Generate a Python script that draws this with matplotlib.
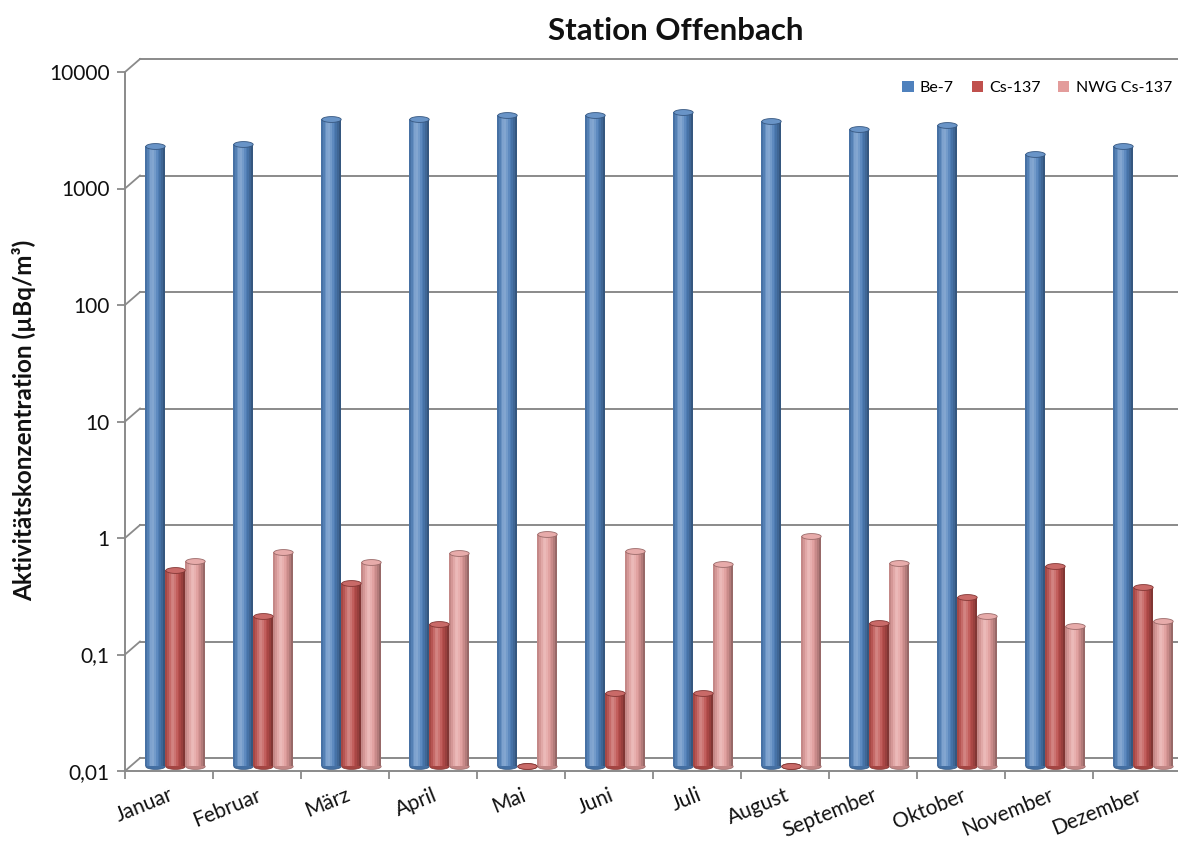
import numpy as np
import matplotlib
matplotlib.use("Agg")
import matplotlib.pyplot as plt
from matplotlib.path import Path
from matplotlib.patches import Patch
from matplotlib.lines import Line2D
from matplotlib import transforms as mtrans
from matplotlib.colors import to_rgb

# ---------------- data ----------------
months = ["Januar", "Februar", "März", "April", "Mai", "Juni", "Juli",
          "August", "September", "Oktober", "November", "Dezember"]
be7 = [2100, 2200, 3600, 3600, 3900, 3850, 4100, 3450, 2950, 3200, 1800, 2100]
cs137 = [0.48, 0.195, 0.37, 0.167, 0.01, 0.042, 0.042, 0.01, 0.17, 0.28, 0.52, 0.345]
nwg_cs137 = [0.58, 0.69, 0.565, 0.67, 0.98, 0.70, 0.54, 0.94, 0.55, 0.195, 0.16, 0.177]
series_names = ["Be-7", "Cs-137", "NWG Cs-137"]
series_colors = ["#4F81BD", "#C0504D", "#E39C9B"]
y_ticks = [0.01, 0.1, 1, 10, 100, 1000, 10000]
y_tick_labels = ["0,01", "0,1", "1", "10", "100", "1000", "10000"]
title = "Station Offenbach"
y_label = "Aktivitätskonzentration (µBq/m³)"

plt.rcParams['font.family'] = ['Lato', 'DejaVu Sans']

W, H = 1178, 843
fig = plt.figure(figsize=(W / 100, H / 100), dpi=100)
left_px, right_px, bottom_px, top_px = 125, 1181, 771, 72
ax = fig.add_axes([left_px / W, 1 - bottom_px / H,
                   (right_px - left_px) / W, (bottom_px - top_px) / H])
ax.set_yscale('log')
ax.set_xlim(-0.5, 11.5)
ax.set_ylim(y_ticks[0], y_ticks[-1])
ax.patch.set_alpha(0)

grey = "#8A8A8A"
ymin = y_ticks[0]

# back wall gridlines (depth offset)
T_back = mtrans.offset_copy(ax.transData, fig=fig, x=15, y=13, units='dots')
for yv in y_ticks:
    ax.plot([-0.5, 11.6], [yv, yv], color=grey, lw=1.4, transform=T_back,
            clip_on=False, zorder=0.5)
    # diagonal connectors from front axis to back wall
    x0, y0 = ax.transData.transform((-0.5, yv))
    fig.add_artist(Line2D([x0, x0 + 15], [y0, y0 + 13], color=grey, lw=1.3,
                          transform=mtrans.IdentityTransform(), zorder=0.5))

# bars as shaded cylinders
T_bar = mtrans.offset_copy(ax.transData, fig=fig, x=6, y=5, units='dots')
bar_w = 0.22
offsets = [-0.228, 0.0, 0.228]
n_strips = 11
px_per_cat = (right_px - left_px) / 12.0
ms = bar_w * px_per_cat * 72 / 100.0

theta = np.linspace(0, 2 * np.pi, 60)
ell_path = Path(np.column_stack([np.cos(theta), 0.3 * np.sin(theta)]), closed=True)


def shade(base, t):
    c = np.array(to_rgb(base))
    hl = 0.30 * np.exp(-((t - 0.38) / 0.2) ** 2)
    dk = 0.40 * (abs(t - 0.42) / 0.58) ** 2.4
    c = c + (1 - c) * hl
    c = c * (1 - dk)
    return np.clip(c, 0, 1)


x = np.arange(len(months))
for vals, off, col in zip([be7, cs137, nwg_cs137], offsets, series_colors):
    vals = np.array(vals, dtype=float)
    xc = x + off
    dark = shade(col, 0.95)
    # bottom ellipse
    ax.plot(xc, np.full_like(vals, ymin), ls='none', marker=ell_path, ms=ms,
            mfc=shade(col, 0.8), mec=dark, mew=0.5, transform=T_bar,
            clip_on=False, zorder=1.5)
    sw = bar_w / n_strips
    for k in range(n_strips):
        t = (k + 0.5) / n_strips
        ax.bar(xc - bar_w / 2 + (k + 0.5) * sw, vals - ymin, width=sw * 1.05,
               bottom=ymin, color=shade(col, t), lw=0, transform=T_bar,
               clip_on=False, zorder=2)
    # top cap
    cap = np.array(to_rgb(col))
    cap = cap + (1 - cap) * 0.15
    ax.plot(xc, vals, ls='none', marker=ell_path, ms=ms, mfc=cap, mec=dark,
            mew=0.6, transform=T_bar, clip_on=False, zorder=3)

# axes styling
for s in ["top", "right"]:
    ax.spines[s].set_visible(False)
for s in ["left", "bottom"]:
    ax.spines[s].set_color(grey)
    ax.spines[s].set_linewidth(1.4)

ax.set_yticks(y_ticks)
ax.set_yticklabels(y_tick_labels)
ax.yaxis.set_minor_locator(matplotlib.ticker.NullLocator())
ax.tick_params(axis='y', which='major', length=6, width=1.3, color=grey,
               labelsize=15, pad=5, labelcolor="#111111")

ax.set_xticks(x)
ax.set_xticklabels(months, rotation=22, ha='right', va='top',
                   rotation_mode='anchor', fontsize=15)
ax.set_xticks(np.arange(-0.5, 12.0, 1.0), minor=True)
ax.tick_params(axis='x', which='major', length=0, pad=10, labelcolor="#111111")
ax.tick_params(axis='x', which='minor', length=6, width=1.3, color=grey)

fig.text(676 / W, 1 - 31 / H, title, ha='center', va='center',
         fontsize=22.5, fontweight='bold', color="#111111")
fig.text(24 / W, 1 - 420 / H, y_label, ha='center', va='center',
         rotation=90, fontsize=17.5, fontweight='bold', color="#111111")

handles = [Patch(facecolor=c, edgecolor='none') for c in series_colors]
fig.legend(handles, series_names, loc='center right',
           bbox_to_anchor=(1172 / W, 1 - 88 / H), ncol=3, frameon=False,
           fontsize=11.5, handlelength=0.7, handleheight=0.7,
           handletextpad=0.4, columnspacing=1.1, borderpad=0, borderaxespad=0)

fig.savefig("out.png", dpi=100)
